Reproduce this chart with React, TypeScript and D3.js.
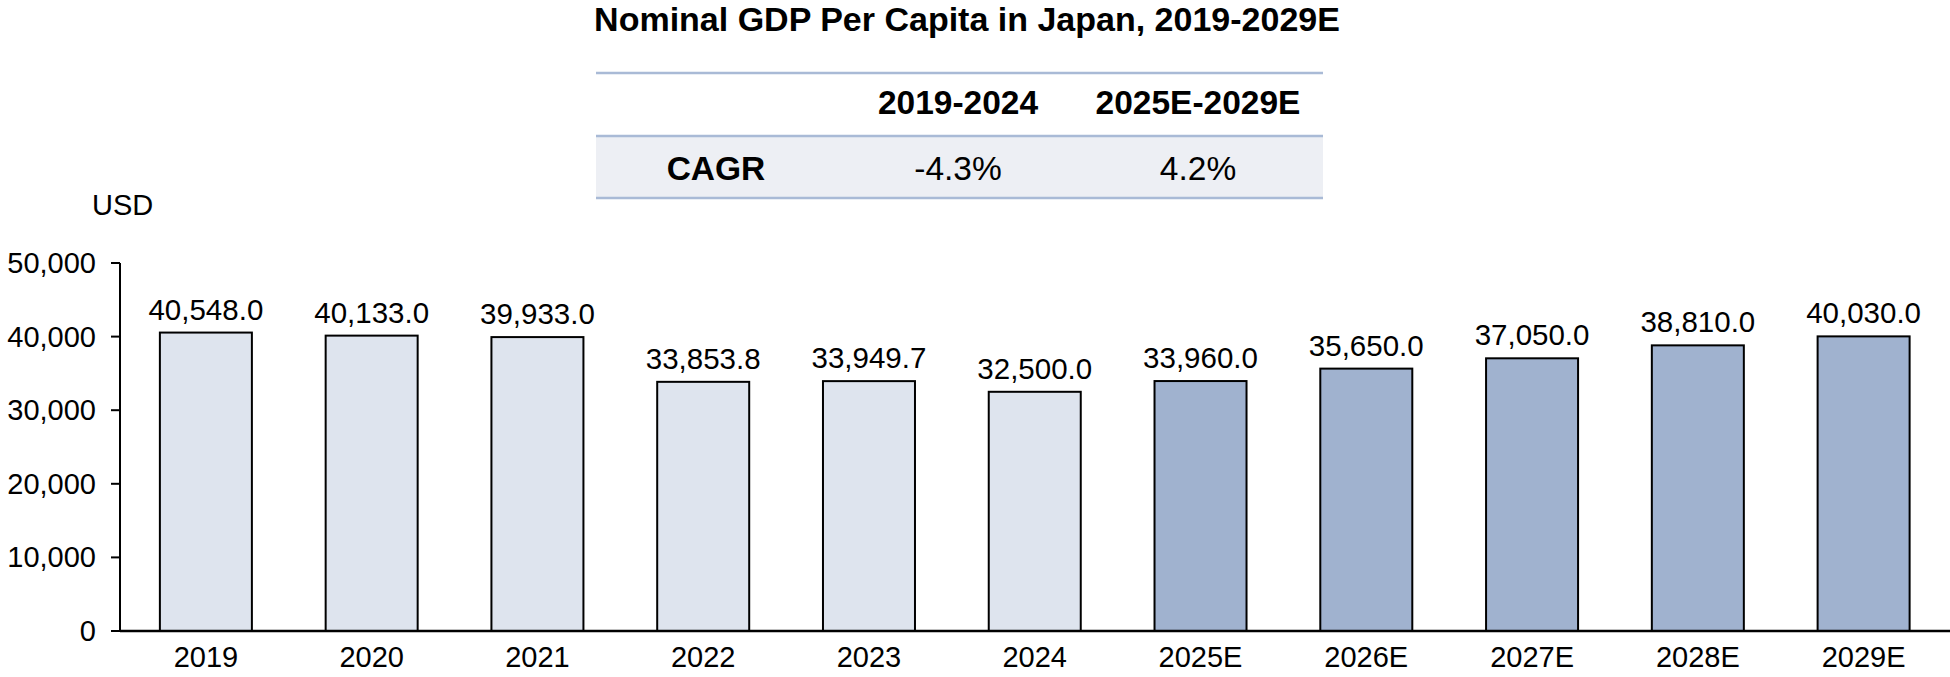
import React from "react";
import * as d3 from "d3";

// data
const years = ["2019", "2020", "2021", "2022", "2023", "2024", "2025E", "2026E", "2027E", "2028E", "2029E"];
const gdpPerCapita = [40548.0, 40133.0, 39933.0, 33853.8, 33949.7, 32500.0, 33960.0, 35650.0, 37050.0, 38810.0, 40030.0];
const yTicks = [0, 10000, 20000, 30000, 40000, 50000];
const cagrPeriods = ["2019-2024", "2025E-2029E"];
const cagrValues = ["-4.3%", "4.2%"];

const W = 1950;
const H = 677;
const FONT = "Arial, 'Liberation Sans', Helvetica, sans-serif";

export default function App() {
  const axisX = 120;
  const x = d3
    .scaleBand<string>()
    .domain(years)
    .range([123, 1946.5])
    .paddingInner(0.445)
    .paddingOuter(0.2225);
  const y = d3.scaleLinear().domain([0, 50000]).range([631, 263]);
  const fmt = d3.format(",.1f");
  const fmtTick = d3.format(",");

  // table geometry
  const tLeft = 596;
  const tRight = 1323;
  const rows = [73, 136, 198];
  const colX = [716, 958, 1198];

  return (
    <svg
      width={W}
      height={H}
      viewBox={`0 0 ${W} ${H}`}
      style={{ position: "absolute", left: 0, top: 0, background: "#fff" }}
      fontFamily={FONT}
    >
      <text x={967} y={31} textAnchor="middle" fontSize={34} fontWeight="bold" fill="#000">
        Nominal GDP Per Capita in Japan, 2019-2029E
      </text>

      {/* CAGR table */}
      <rect x={tLeft} y={rows[1]} width={tRight - tLeft} height={rows[2] - rows[1]} fill="#edeff4" />
      {rows.map((r) => (
        <line key={r} x1={tLeft} x2={tRight} y1={r} y2={r} stroke="#a9bad6" strokeWidth={2.5} />
      ))}
      {cagrPeriods.map((p, i) => (
        <text key={p} x={colX[i + 1]} y={114} textAnchor="middle" fontSize={33.5} fontWeight="bold">
          {p}
        </text>
      ))}
      <text x={colX[0]} y={180} textAnchor="middle" fontSize={33.5} fontWeight="bold">
        CAGR
      </text>
      {cagrValues.map((v, i) => (
        <text key={v} x={colX[i + 1]} y={180} textAnchor="middle" fontSize={33.5}>
          {v}
        </text>
      ))}

      {/* y axis */}
      <text x={92} y={215} fontSize={29}>
        USD
      </text>
      <line x1={axisX} x2={axisX} y1={y(50000)} y2={y(0)} stroke="#000" strokeWidth={2} />
      {yTicks.map((t) => (
        <g key={t}>
          <line x1={axisX - 9} x2={axisX} y1={y(t)} y2={y(t)} stroke="#000" strokeWidth={2} />
          <text x={96} y={y(t) + 10} textAnchor="end" fontSize={29}>
            {fmtTick(t)}
          </text>
        </g>
      ))}

      {/* bars */}
      {years.map((yr, i) => {
        const v = gdpPerCapita[i];
        const bx = x(yr)!;
        const forecast = yr.endsWith("E");
        return (
          <g key={yr}>
            <rect
              x={bx}
              y={y(v)}
              width={x.bandwidth()}
              height={y(0) - y(v)}
              fill={forecast ? "#a0b2cf" : "#dee4ee"}
              stroke="#000"
              strokeWidth={2}
            />
            <text x={bx + x.bandwidth() / 2} y={y(v) - 13} textAnchor="middle" fontSize={29.5}>
              {fmt(v)}
            </text>
            <text x={bx + x.bandwidth() / 2} y={667} textAnchor="middle" fontSize={29}>
              {yr}
            </text>
          </g>
        );
      })}

      {/* x axis */}
      <line x1={axisX} x2={W} y1={y(0)} y2={y(0)} stroke="#000" strokeWidth={2.5} />
    </svg>
  );
}
